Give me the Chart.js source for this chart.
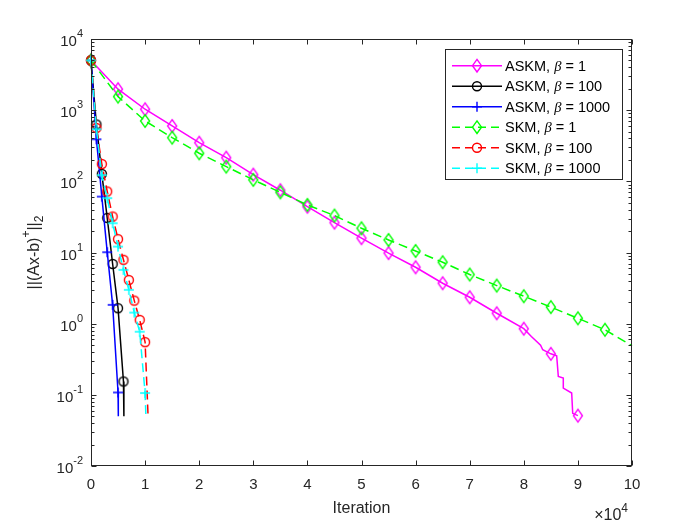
<!DOCTYPE html>
<html>
<head>
<meta charset="utf-8">
<script src="https://cdn.jsdelivr.net/npm/chart.js@4"></script>
<style>
  html, body { margin: 0; padding: 0; background: #fff; }
  canvas { display: block; }
</style>
</head>
<body>
<canvas id="chart" width="700" height="525"></canvas>
<script>
// axis ticks (x in units of 10^4 iterations, y as powers of ten)
const xTicks = [0, 1, 2, 3, 4, 5, 6, 7, 8, 9, 10];
const yExps = [-2, -1, 0, 1, 2, 3, 4];

// values: iteration -> ||(Ax-b)+||_2
const askm1Iter = [0, 5000, 10000, 15000, 20000, 25000, 30000, 35000, 40000, 45000, 50000, 55000, 60000, 65000, 70000, 75000, 80000, 81400, 83100, 83500, 85000, 86080, 86380, 87300, 87300, 88850, 89040, 90000];
const askm1Res = [5000, 1970, 1030, 600, 349, 215, 124, 75, 44, 26.3, 15.9, 9.8, 6.2, 3.7, 2.35, 1.4, 0.85, 0.66, 0.5, 0.43, 0.377, 0.353, 0.181, 0.172, 0.124, 0.106, 0.055, 0.051];

const askm100Iter = [0, 1000, 2000, 3000, 4000, 5000, 6000, 6080];
const askm100Res = [5000, 630, 127, 30.6, 6.9, 1.65, 0.154, 0.05];

const askm1000Iter = [0, 1000, 2000, 3000, 4000, 5000, 5050];
const askm1000Res = [5000, 390, 61, 10.1, 1.84, 0.108, 0.05];

const skm1Iter = [0, 5000, 10000, 15000, 20000, 25000, 30000, 35000, 40000, 45000, 50000, 55000, 60000, 65000, 70000, 75000, 80000, 85000, 90000, 95000, 100000];
const skm1Res = [5000, 1550, 705, 411, 248, 161, 105, 70, 46.6, 33, 21.9, 15.0, 10.5, 7.3, 4.9, 3.43, 2.43, 1.71, 1.19, 0.82, 0.49];

const skm100Iter = [0, 1000, 2000, 3000, 4000, 5000, 6000, 7000, 8000, 9000, 10000, 10550];
const skm100Res = [5000, 562, 175, 72, 32, 15.4, 7.9, 4.1, 2.11, 1.13, 0.55, 0.05];

const skm1000Iter = [0, 1000, 2000, 3000, 4000, 5000, 6000, 7000, 8000, 9000, 10000, 10150];
const skm1000Res = [5000, 540, 122, 58, 25.8, 12.1, 5.7, 2.99, 1.43, 0.77, 0.106, 0.05];

const methodNames = ["ASKM", "ASKM", "ASKM", "SKM", "SKM", "SKM"];
const betaValues = ["1", "100", "1000", "1", "100", "1000"];
const iterSeries = [askm1Iter, askm100Iter, askm1000Iter, skm1Iter, skm100Iter, skm1000Iter];
const resSeries = [askm1Res, askm100Res, askm1000Res, skm1Res, skm100Res, skm1000Res];

const FONT = "'Liberation Sans', Arial, Helvetica, sans-serif";
const looks = [
  { color: "#ff00ff", marker: "diamond", dash: [], step: 5000 },
  { color: "#000000", marker: "circle", dash: [], step: 1000 },
  { color: "#0000ff", marker: "plus", dash: [], step: 1000 },
  { color: "#00ff00", marker: "diamond", dash: [9, 5], step: 5000 },
  { color: "#ff0000", marker: "circle", dash: [9, 5], step: 1000 },
  { color: "#00ffff", marker: "plus", dash: [9, 5], step: 1000 },
];

const markerPath = (ctx, kind, x, y) => {
  ctx.beginPath();
  if (kind === "diamond") {
    ctx.moveTo(x, y - 6.3);
    ctx.lineTo(x + 4.5, y);
    ctx.lineTo(x, y + 6.3);
    ctx.lineTo(x - 4.5, y);
    ctx.closePath();
  } else if (kind === "circle") {
    ctx.arc(x, y, 4.5, 0, Math.PI * 2);
  } else {
    ctx.moveTo(x - 5, y);
    ctx.lineTo(x + 5, y);
    ctx.moveTo(x, y - 5);
    ctx.lineTo(x, y + 5);
  }
  ctx.stroke();
};

const markerImage = (kind, color) => {
  const c = document.createElement("canvas");
  c.width = 16;
  c.height = 18;
  const g = c.getContext("2d");
  g.strokeStyle = color;
  g.lineWidth = 1.4;
  markerPath(g, kind, 8, 9);
  return c;
};

// draw a row of text pieces (sup/sub/italic) starting at x
const drawRuns = (ctx, runs, x, y) => {
  let cx = x;
  runs.forEach((r) => {
    ctx.font = r.font;
    ctx.fillText(r.text, cx, y + (r.dy || 0));
    cx += ctx.measureText(r.text).width;
  });
  return cx;
};
const runsWidth = (ctx, runs) =>
  runs.reduce((w, r) => {
    ctx.font = r.font;
    return w + ctx.measureText(r.text).width;
  }, 0);

const datasets = iterSeries.map((iters, i) => {
  const look = looks[i];
  return {
    label: `${methodNames[i]}, β = ${betaValues[i]}`,
    data: iters.map((it, k) => ({ x: it, y: resSeries[i][k] })),
    borderColor: look.color,
    backgroundColor: look.color,
    borderWidth: 1.5,
    borderDash: look.dash,
    pointStyle: markerImage(look.marker, look.color),
    pointRadius: (c) => (c.raw && c.raw.x % look.step === 0 && c.raw.x < 100000 ? 5 : 0),
    tension: 0,
    clip: false,
    order: iterSeries.length - i,
  };
});

const matlabAxes = {
  id: "matlabAxes",
  afterDatasetsDraw(chart) {
    const { ctx, chartArea: a, scales } = chart;
    const x = scales.x;
    const y = scales.y;
    ctx.save();
    ctx.strokeStyle = "#262626";
    ctx.fillStyle = "#262626";
    ctx.lineWidth = 1;
    const L = Math.round(a.left) + 0.5;
    const R = Math.round(a.right) - 0.5;
    const T = Math.round(a.top) + 0.5;
    const B = Math.round(a.bottom) - 0.5;
    ctx.strokeRect(L, T, R - L, B - T);

    ctx.beginPath();
    xTicks.forEach((t) => {
      const px = Math.round(x.getPixelForValue(t * 10000)) + 0.5;
      ctx.moveTo(px, B); ctx.lineTo(px, B - 5);
      ctx.moveTo(px, T); ctx.lineTo(px, T + 5);
    });
    yExps.forEach((e) => {
      const py = Math.round(y.getPixelForValue(Math.pow(10, e))) + 0.5;
      ctx.moveTo(L, py); ctx.lineTo(L + 5, py);
      ctx.moveTo(R, py); ctx.lineTo(R - 5, py);
      if (e < 4) {
        for (let m = 2; m <= 9; m++) {
          const pm = Math.round(y.getPixelForValue(m * Math.pow(10, e))) + 0.5;
          ctx.moveTo(L, pm); ctx.lineTo(L + 3, pm);
          ctx.moveTo(R, pm); ctx.lineTo(R - 3, pm);
        }
      }
    });
    ctx.stroke();

    // x tick labels
    ctx.font = `15px ${FONT}`;
    ctx.textAlign = "center";
    ctx.textBaseline = "middle";
    xTicks.forEach((t) => {
      ctx.fillText(String(t), x.getPixelForValue(t * 10000), a.bottom + 19);
    });

    // y tick labels 10^e
    ctx.textAlign = "left";
    yExps.forEach((e) => {
      const py = y.getPixelForValue(Math.pow(10, e));
      const runs = [
        { text: "10", font: `15px ${FONT}`, dy: 3 },
        { text: String(e), font: `11px ${FONT}`, dy: -5 },
      ];
      drawRuns(ctx, runs, a.left - 8 - runsWidth(ctx, runs), py);
    });

    // x label and exponent
    ctx.font = `16px ${FONT}`;
    ctx.textAlign = "center";
    ctx.fillText("Iteration", (a.left + a.right) / 2, a.bottom + 43);
    ctx.textAlign = "left";
    const expRuns = [
      { text: "×10", font: `16px ${FONT}`, dy: 0 },
      { text: "4", font: `12px ${FONT}`, dy: -7 },
    ];
    drawRuns(ctx, expRuns, a.right - 4 - runsWidth(ctx, expRuns), a.bottom + 50);

    // y label ||(Ax-b)^+||_2
    const titleRuns = [
      { text: "||(Ax-b)", font: `16px ${FONT}`, dy: 0 },
      { text: "+", font: `12px ${FONT}`, dy: -8 },
      { text: "||", font: `16px ${FONT}`, dy: 0 },
      { text: "2", font: `12px ${FONT}`, dy: 5 },
    ];
    ctx.translate(35, (a.top + a.bottom) / 2);
    ctx.rotate(-Math.PI / 2);
    drawRuns(ctx, titleRuns, -runsWidth(ctx, titleRuns) / 2, 0);
    ctx.restore();
  },
};

const legendBox = {
  id: "legendBox",
  afterDraw(chart) {
    const { ctx } = chart;
    const box = { left: 445.5, top: 49.5, right: 622.5, bottom: 179.5 };
    ctx.save();
    ctx.fillStyle = "#fff";
    ctx.fillRect(box.left, box.top, box.right - box.left, box.bottom - box.top);
    ctx.strokeStyle = "#262626";
    ctx.lineWidth = 1;
    ctx.strokeRect(box.left, box.top, box.right - box.left, box.bottom - box.top);
    datasets.forEach((ds, i) => {
      const look = looks[i];
      const cy = 65.7 + i * 20.5;
      ctx.strokeStyle = look.color;
      ctx.lineWidth = 1.5;
      ctx.setLineDash(look.dash.length ? [8, 5] : []);
      ctx.beginPath();
      ctx.moveTo(452, cy);
      ctx.lineTo(502, cy);
      ctx.stroke();
      ctx.setLineDash([]);
      ctx.lineWidth = 1.4;
      markerPath(ctx, look.marker, 477, cy);
      ctx.fillStyle = "#000";
      ctx.textAlign = "left";
      ctx.textBaseline = "middle";
      drawRuns(ctx, [
        { text: `${methodNames[i]}, `, font: `14.5px ${FONT}` },
        { text: "β", font: `italic 14.5px 'Liberation Serif', serif` },
        { text: ` = ${betaValues[i]}`, font: `14.5px ${FONT}` },
      ], 505, cy + 1);
    });
    ctx.restore();
  },
};

new Chart(document.getElementById("chart"), {
  type: "line",
  data: { datasets },
  options: {
    responsive: false,
    animation: false,
    events: [],
    layout: { padding: { left: 91, top: 39, right: 68, bottom: 59 } },
    scales: {
      x: { type: "linear", min: 0, max: 100000, display: false },
      y: { type: "logarithmic", min: 0.01, max: 10000, display: false },
    },
    plugins: {
      legend: { display: false },
      tooltip: { enabled: false },
    },
  },
  plugins: [matlabAxes, legendBox],
});
</script>
</body>
</html>
